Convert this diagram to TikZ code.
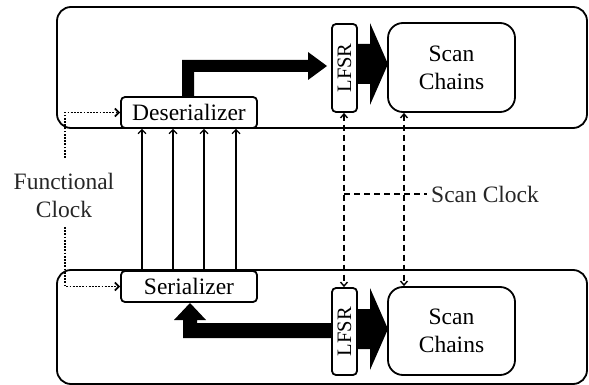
\documentclass[tikz,border=0pt]{standalone}
\usepackage{fontspec}
\setmainfont{Liberation Serif}
\usetikzlibrary{arrows.meta,calc}
\begin{document}
\begin{tikzpicture}[x=1pt,y=-1pt,
  chip/.style={draw, line width=1.8pt, rounded corners=14pt},
  blk/.style={draw, line width=1.8pt, rounded corners=4pt, inner sep=0pt, fill=white,
              font=\fontsize{23.5pt}{28pt}\selectfont},
  lfsrbox/.style={blk, minimum width=25pt, minimum height=88pt},
  chainbox/.style={blk, rounded corners=15pt, minimum width=127pt, minimum height=89pt, align=center},
  serdes/.style={blk, minimum width=136pt, minimum height=31pt},
  lbl/.style={inner sep=0pt, font=\fontsize{23.5pt}{28pt}\selectfont, text=black!85},
  wire/.style={line width=1.2pt, -{Straight Barb[length=4pt,width=8pt]}},
  sclk/.style={line width=1.4pt, dash pattern=on 6pt off 4pt},
  sclkarr/.style={sclk, {Straight Barb[length=4pt,width=7pt]}-{Straight Barb[length=4pt,width=7pt]}},
  fclk/.style={line width=1.7pt, dash pattern=on 1.8pt off 1.4pt},
  bus/.style={fill=black}
]
\useasboundingbox (0,0) rectangle (589,385);

% two chips
\draw[chip] (57,7) rectangle (587,128);
\draw[chip] (57,270) rectangle (587,384);

% blocks of the upper chip
\node[serdes] (des) at (189,112.5) {Deserializer};
\node[lfsrbox] (lfsrA) at (344.5,68) {};
\node[rotate=90, font=\fontsize{20.5pt}{24pt}\selectfont, inner sep=0pt] at (lfsrA) {LFSR};
\node[chainbox] (chA) at (451.5,67.5) {Scan\\Chains};

% blocks of the lower chip
\node[serdes] (ser) at (189,286.5) {Serializer};
\node[lfsrbox, minimum height=87pt] (lfsrB) at (344.5,331.5) {};
\node[rotate=90, font=\fontsize{20.5pt}{24pt}\selectfont, inner sep=0pt] at (lfsrB) {LFSR};
\node[chainbox, minimum height=88pt] (chB) at (451.5,331) {Scan\\Chains};

% wide buses
\fill[bus] (182,97) -- (182,60) -- (308,60) -- (308,52) -- (327,66) -- (308,80)
  -- (308,72) -- (194,72) -- (194,97) -- cycle;
\fill[bus] (356,44) -- (370,44) -- (370,23) -- (388,64) -- (370,105) -- (370,84)
  -- (356,84) -- cycle;
\fill[bus] (356,309) -- (370,309) -- (370,288) -- (388,329) -- (370,370) -- (370,349)
  -- (356,349) -- cycle;
\fill[bus] (332,323) -- (197,323) -- (197,320) -- (206,320) -- (190,303) -- (174,320)
  -- (183,320) -- (183,338) -- (332,338) -- cycle;

% serial links
\foreach \x/\n in {142/1,173/2,204/3,236/4}{
  \coordinate (s\n) at (\x,0);
  \draw[wire] (ser.north -| s\n) -- (des.south -| s\n);
}

% functional clock
\node[lbl, align=center] (fc) at (64,195) {Functional\\Clock};
\coordinate (fcA) at (65,158);
\coordinate (fcB) at (65,227);
\draw[fclk, -{Straight Barb[length=4pt,width=8pt]}] (fcA) |- (des.west);
\draw[fclk, -{Straight Barb[length=4pt,width=8pt]}] (fcB) |- (ser.west);

% scan clock
\node[lbl, anchor=west] (sc) at (431,194) {Scan Clock};
\coordinate (lx) at (344,0);
\coordinate (rx) at (404,0);
\draw[sclkarr] (lfsrA.south -| lx) -- (lfsrB.north -| lx);
\draw[sclkarr] (chA.south -| rx) -- (chB.north -| rx);
\draw[sclk] (sc.west -| lx) -- ($(sc.west)+(-4,0)$);
\end{tikzpicture}
\end{document}
